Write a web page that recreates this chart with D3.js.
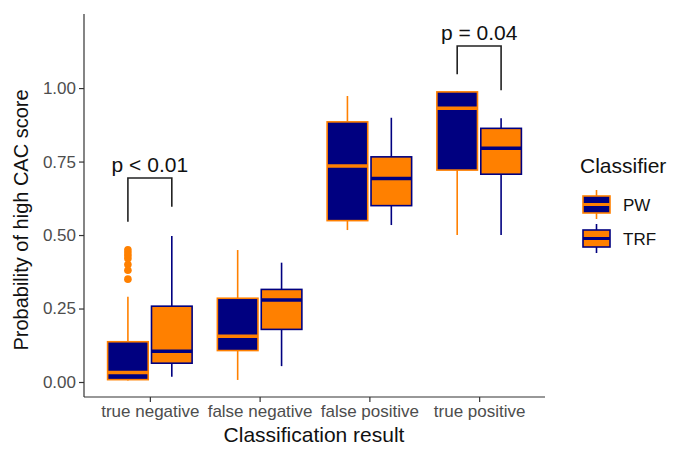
<!DOCTYPE html>
<html><head><meta charset="utf-8">
<script src="https://cdn.jsdelivr.net/npm/d3@7"></script>
<style>body{margin:0;background:#fff}svg{display:block;font-family:"Liberation Sans",Arial,sans-serif}</style>
</head><body><svg id="c" width="674" height="450"></svg>
<script>
const categories = ["true negative","false negative","false positive","true positive"];
const classifiers = ["PW","TRF"];
// PW box stats
const pwLow  = [0.005,0.007,0.517,0.500];
const pwQ1   = [0.008,0.107,0.549,0.721];
const pwMed  = [0.032,0.156,0.735,0.931];
const pwQ3   = [0.137,0.285,0.885,0.987];
const pwHigh = [0.290,0.449,0.973,0.990];
const pwOutliersTN = [0.45,0.44,0.43,0.42,0.40,0.38,0.35];
// TRF box stats
const trfLow  = [0.018,0.054,0.534,0.500];
const trfQ1   = [0.064,0.179,0.600,0.707];
const trfMed  = [0.105,0.279,0.692,0.795];
const trfQ3   = [0.258,0.315,0.766,0.863];
const trfHigh = [0.497,0.406,0.899,0.897];
const yTicks = [0,0.25,0.5,0.75,1.0];
// significance brackets: category, label, bar height, left end, right end
const sigCats = ["true negative","true positive"];
const sigLabels = ["p < 0.01","p = 0.04"];
const sigBar = [0.694,1.143];
const sigLeft = [0.545,1.047];
const sigRight = [0.596,0.993];

const navy = "#000080", orange = "#FF8000";
const fillC = {PW:navy, TRF:orange}, lineC = {PW:orange, TRF:navy};

const svg = d3.select("#c");
const x = d3.scalePoint().domain(categories).range([84,545]).padding(0.6);
const y = d3.scaleLinear().domain([-0.051,1.252]).range([397,14]);
const step = x.step();
const off = {PW:-0.2*step, TRF:0.2*step};
const bw = 0.37*step;

const stats = [];
categories.forEach((c,i)=>{
  stats.push({cat:c,cls:"PW",low:pwLow[i],q1:pwQ1[i],med:pwMed[i],q3:pwQ3[i],high:pwHigh[i]});
  stats.push({cat:c,cls:"TRF",low:trfLow[i],q1:trfQ1[i],med:trfMed[i],q3:trfQ3[i],high:trfHigh[i]});
});

// axes
const gx = svg.append("g").attr("transform","translate(0,397)")
  .call(d3.axisBottom(x).tickSize(5).tickPadding(3));
gx.select(".domain").attr("d","M84,0H545").attr("stroke","#333").attr("stroke-width",1.2);
gx.selectAll(".tick line").attr("stroke","#333").attr("stroke-width",1.2);
gx.selectAll(".tick text").attr("fill","#4D4D4D").attr("font-size",17).attr("font-family","Liberation Sans, Arial, sans-serif");

const gy = svg.append("g").attr("transform","translate(84,0)")
  .call(d3.axisLeft(y).tickValues(yTicks).tickFormat(d3.format(".2f")).tickSize(5).tickPadding(3));
gy.select(".domain").attr("d","M0,14V397").attr("stroke","#333").attr("stroke-width",1.2);
gy.selectAll(".tick line").attr("stroke","#333").attr("stroke-width",1.2);
gy.selectAll(".tick text").attr("fill","#4D4D4D").attr("font-size",17).attr("font-family","Liberation Sans, Arial, sans-serif");

// boxes
const g = svg.append("g");
stats.forEach(s=>{
  const cx = x(s.cat)+off[s.cls];
  g.append("line").attr("x1",cx).attr("x2",cx).attr("y1",y(s.q3)).attr("y2",y(s.high))
    .attr("stroke",lineC[s.cls]).attr("stroke-width",1.6);
  g.append("line").attr("x1",cx).attr("x2",cx).attr("y1",y(s.q1)).attr("y2",y(s.low))
    .attr("stroke",lineC[s.cls]).attr("stroke-width",1.6);
  g.append("rect").attr("x",cx-bw/2).attr("width",bw).attr("y",y(s.q3)).attr("height",y(s.q1)-y(s.q3))
    .attr("fill",fillC[s.cls]).attr("stroke",lineC[s.cls]).attr("stroke-width",1.6);
  g.append("line").attr("x1",cx-bw/2).attr("x2",cx+bw/2).attr("y1",y(s.med)).attr("y2",y(s.med))
    .attr("stroke",lineC[s.cls]).attr("stroke-width",3.5);
});
// outliers
g.selectAll("circle.out").data(pwOutliersTN).enter().append("circle")
  .attr("cx",x("true negative")+off.PW).attr("cy",d=>y(d)).attr("r",3.8).attr("fill",orange);

// significance brackets
sigCats.forEach((c,i)=>{
  const xl = x(c)+off.PW, xr = x(c)+off.TRF;
  svg.append("path").attr("d",`M${xl},${y(sigLeft[i])}V${y(sigBar[i])}H${xr}V${y(sigRight[i])}`)
    .attr("fill","none").attr("stroke","#222").attr("stroke-width",1.6);
  svg.append("text").attr("x",x(c)).attr("y",y(sigBar[i])-6).attr("text-anchor","middle")
    .attr("font-size",21).attr("fill","#111").text(sigLabels[i]);
});

// axis titles
svg.append("text").attr("x",314).attr("y",442).attr("text-anchor","middle")
  .attr("font-size",21).attr("fill","#111").text("Classification result");
svg.append("text").attr("transform","translate(28,220) rotate(-90)").attr("text-anchor","middle")
  .attr("font-size",20).attr("fill","#111").text("Probability of high CAC score");

// legend
const lg = svg.append("g");
lg.append("text").attr("x",580).attr("y",173).attr("font-size",21).attr("fill","#111").text("Classifier");
classifiers.forEach((c,i)=>{
  const top = 196 + i*34, kx = 583, kw = 27, kh = 17, mid = kx+kw/2;
  lg.append("line").attr("x1",mid).attr("x2",mid).attr("y1",top-6).attr("y2",top+kh+6)
    .attr("stroke",lineC[c]).attr("stroke-width",1.6);
  lg.append("rect").attr("x",kx).attr("y",top).attr("width",kw).attr("height",kh)
    .attr("fill",fillC[c]).attr("stroke",lineC[c]).attr("stroke-width",1.6);
  lg.append("line").attr("x1",kx).attr("x2",kx+kw).attr("y1",top+kh/2).attr("y2",top+kh/2)
    .attr("stroke",lineC[c]).attr("stroke-width",3);
  lg.append("text").attr("x",623).attr("y",top+kh/2+6).attr("font-size",17).attr("fill","#111").text(c);
});
</script></body></html>
